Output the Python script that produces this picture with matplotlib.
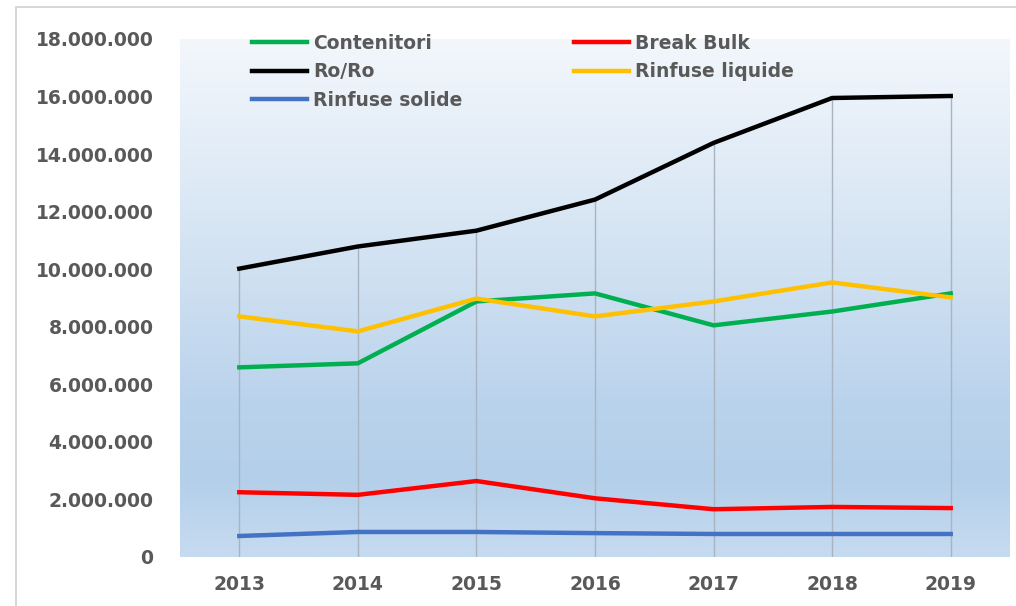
import matplotlib.pyplot as plt
from matplotlib.colors import LinearSegmentedColormap
from matplotlib.patches import Rectangle
from matplotlib.ticker import FuncFormatter
import numpy as np

years = [2013, 2014, 2015, 2016, 2017, 2018, 2019]
contenitori = [6590000, 6730000, 8880000, 9160000, 8050000, 8530000, 9160000]
break_bulk = [2250000, 2160000, 2640000, 2040000, 1660000, 1740000, 1700000]
ro_ro = [10020000, 10790000, 11340000, 12420000, 14390000, 15950000, 16020000]
rinfuse_liquide = [8360000, 7840000, 8980000, 8360000, 8880000, 9540000, 9020000]
rinfuse_solide = [730000, 870000, 870000, 830000, 800000, 800000, 800000]

plt.rcParams['font.family'] = ['DejaVu Sans']
fig = plt.figure(figsize=[10.16, 6.06], dpi=100)
ax = fig.add_axes([180 / 1016, 49 / 606, 830 / 1016, 518 / 606])

# outer frame of the chart card
fig.patches.append(Rectangle((16 / 1016, -0.01), 1.1, (606 - 7) / 606 + 0.01,
                             transform=fig.transFigure, fill=False,
                             edgecolor='#D0D0D0', linewidth=1.2))

# background gradient (top white -> light blue, slightly lighter at bottom)
cmap = LinearSegmentedColormap.from_list('bg', [
    (0.0, '#F3F7FC'), (0.35, '#D8E6F4'), (0.7, '#BAD3EC'),
    (0.85, '#B4CFEA'), (1.0, '#C6DBF0')])
grad = np.linspace(0, 1, 256).reshape(-1, 1)
ax.imshow(grad, cmap=cmap, aspect='auto', extent=[0, 1, 0, 1],
          transform=ax.transAxes, zorder=0)

# drop lines from the highest series down to the axis
tops = np.max([contenitori, break_bulk, ro_ro, rinfuse_liquide, rinfuse_solide], axis=0)
ax.vlines(years, 0, tops, color='#A9B4C0', linewidth=1, zorder=1)

lw = 3.2
l1, = ax.plot(years, contenitori, color='#00B050', lw=lw, label='Contenitori', zorder=3)
l2, = ax.plot(years, break_bulk, color='#FF0000', lw=lw, label='Break Bulk', zorder=3)
l3, = ax.plot(years, ro_ro, color='#000000', lw=lw, label='Ro/Ro', zorder=3)
l4, = ax.plot(years, rinfuse_liquide, color='#FFC000', lw=lw, label='Rinfuse liquide', zorder=3)
l5, = ax.plot(years, rinfuse_solide, color='#4472C4', lw=lw, label='Rinfuse solide', zorder=3)

ax.set_xlim(2012.5, 2019.5)
ax.set_ylim(0, 18000000)
ax.set_xticks(years)
ax.set_yticks(np.arange(0, 18000001, 2000000))
ax.yaxis.set_major_formatter(FuncFormatter(lambda v, p: f'{int(v):,}'.replace(',', '.')))
for s in ax.spines.values():
    s.set_visible(False)
fs = 13.5
ax.tick_params(length=0, labelsize=fs, labelcolor='#595959')
ax.tick_params(axis='y', pad=19)
ax.tick_params(axis='x', pad=13)
for t in ax.get_xticklabels() + ax.get_yticklabels():
    t.set_fontweight('bold')

leg = fig.legend([l1, l3, l5, l2, l4],
                 ['Contenitori', 'Ro/Ro', 'Rinfuse solide', 'Break Bulk', 'Rinfuse liquide'],
                 ncol=2, loc='upper left', bbox_to_anchor=(252 / 1016, 1 - 34 / 606),
                 frameon=False, handlelength=2.93, handletextpad=0.32,
                 columnspacing=5.97, labelspacing=0.5, borderpad=0, borderaxespad=0,
                 prop={'weight': 'bold', 'size': fs})
for t in leg.get_texts():
    t.set_color('#595959')

fig.savefig('out.png', dpi=100)
